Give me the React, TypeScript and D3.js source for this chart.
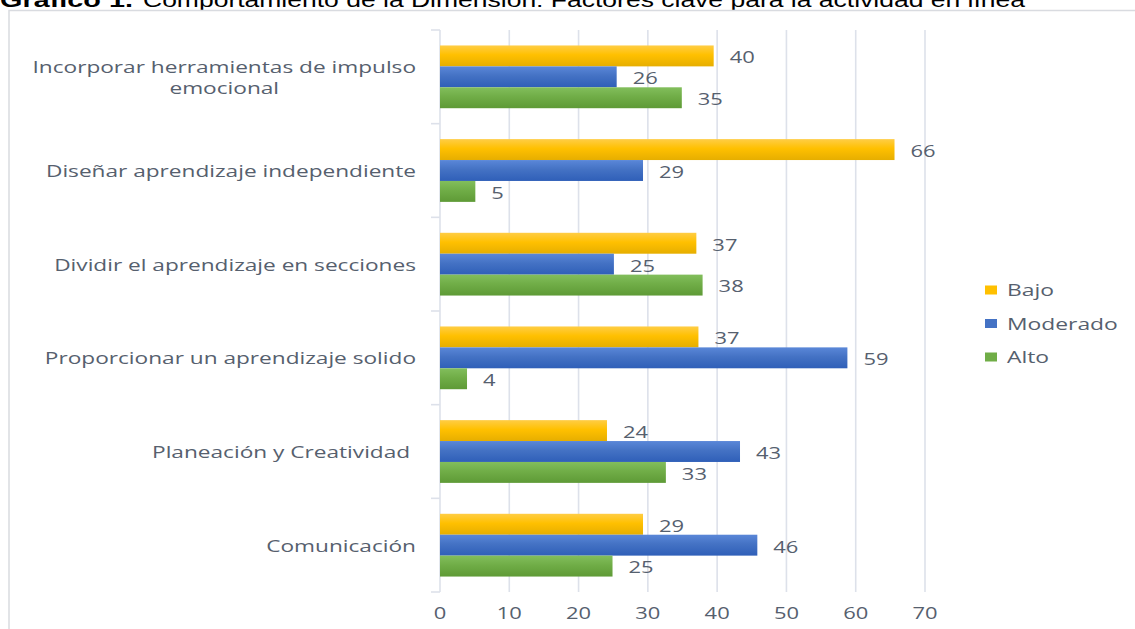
import React, { useEffect, useRef } from 'react';
import * as d3 from 'd3';

const categories = [
  'Incorporar herramientas de impulso\nemocional',
  'Diseñar aprendizaje independiente',
  'Dividir el aprendizaje en secciones',
  'Proporcionar un aprendizaje solido',
  'Planeación y Creatividad ',
  'Comunicación',
];
const seriesNames = ['Bajo', 'Moderado', 'Alto'];
const bajo = [39.5, 65.6, 37, 37.3, 24.1, 29.3];
const moderado = [25.5, 29.3, 25.1, 58.8, 43.3, 45.8];
const alto = [34.9, 5.1, 37.9, 3.9, 32.6, 24.9];
const xTicks = [0, 10, 20, 30, 40, 50, 60, 70];

const W = 1135;
const H = 629;
const SX = 1.33; // the picture is stretched sideways
const textColor = '#56606e';
const gridColor = '#dde1ea';

const App = () => {
  const svgRef = useRef<SVGSVGElement>(null);

  useEffect(() => {
    const svg = d3.select(svgRef.current);
    svg.selectAll('*').remove();

    const values = [bajo, moderado, alto];
    const colors = [
      ['#ffcd45', '#ffc000', '#e6ae00'],
      ['#5a87d8', '#4472c4', '#2f5fb8'],
      ['#82be5c', '#70ad47', '#5e9a36'],
    ];

    const defs = svg.append('defs');
    colors.forEach((c, i) => {
      const g = defs.append('linearGradient')
        .attr('id', `grad${i}`)
        .attr('x1', 0).attr('y1', 0).attr('x2', 0).attr('y2', 1);
      g.append('stop').attr('offset', '0%').attr('stop-color', c[0]);
      g.append('stop').attr('offset', '45%').attr('stop-color', c[1]);
      g.append('stop').attr('offset', '100%').attr('stop-color', c[2]);
    });

    // title (cut at the top of the picture)
    svg.append('text')
      .attr('x', 0).attr('y', 7)
      .attr('font-family', 'Liberation Sans, Arial, sans-serif')
      .attr('font-size', 21).attr('font-weight', 'bold')
      .attr('fill', '#000')
      .attr('textLength', 133).attr('lengthAdjust', 'spacingAndGlyphs')
      .text('Gráfico 1.');
    svg.append('text')
      .attr('x', 143).attr('y', 7)
      .attr('font-family', 'Liberation Sans, Arial, sans-serif')
      .attr('font-size', 21)
      .attr('fill', '#000')
      .attr('textLength', 882).attr('lengthAdjust', 'spacingAndGlyphs')
      .text('Comportamiento de la Dimensión: Factores clave para la actividad en línea');

    // chart frame
    svg.append('rect')
      .attr('x', 9).attr('y', 10.5)
      .attr('width', 1140).attr('height', 640)
      .attr('fill', 'none')
      .attr('stroke', '#d9dbe0').attr('stroke-width', 1.5);

    const x = d3.scaleLinear().domain([0, 70]).range([440, 925]);
    const y = d3.scaleBand<string>()
      .domain(categories)
      .range([30, 592])
      .paddingInner(0.33)
      .paddingOuter(0.165);
    const yInner = d3.scaleBand<string>()
      .domain(seriesNames)
      .range([0, y.bandwidth()]);

    const top = 30;
    const bottom = 592;

    // vertical gridlines
    svg.append('g').selectAll('line')
      .data(xTicks)
      .join('line')
      .attr('x1', d => x(d)).attr('x2', d => x(d))
      .attr('y1', top).attr('y2', bottom)
      .attr('stroke', gridColor).attr('stroke-width', 1.6);

    // category axis ticks
    const bounds = categories.map(c => (y(c) as number) - y.step() * y.paddingInner() / 2);
    bounds.push(bottom);
    svg.append('g').selectAll('line')
      .data(bounds)
      .join('line')
      .attr('x1', 431).attr('x2', x(0))
      .attr('y1', d => d).attr('y2', d => d)
      .attr('stroke', gridColor).attr('stroke-width', 1.6);

    // x tick labels
    svg.append('g').selectAll('text')
      .data(xTicks)
      .join('text')
      .attr('transform', d => `translate(${x(d)},${613}) scale(${SX},1)`)
      .attr('text-anchor', 'middle')
      .attr('dominant-baseline', 'central')
      .attr('font-family', 'Open Sans, sans-serif')
      .attr('font-size', 16.5)
      .attr('fill', textColor)
      .text(d => d);

    const fmt = d3.format('.0f');

    // bars + data labels
    seriesNames.forEach((s, si) => {
      const g = svg.append('g');
      categories.forEach((c, ci) => {
        const v = values[si][ci];
        const by = (y(c) as number) + (yInner(s) as number);
        const bh = yInner.bandwidth();
        g.append('rect')
          .attr('x', x(0)).attr('y', by)
          .attr('width', x(v) - x(0)).attr('height', bh)
          .attr('fill', `url(#grad${si})`);
        g.append('text')
          .attr('transform', `translate(${x(v) + 16},${by + bh / 2 + 1}) scale(${SX},1)`)
          .attr('dominant-baseline', 'central')
          .attr('font-family', 'Open Sans, sans-serif')
          .attr('font-size', 16.5)
          .attr('fill', textColor)
          .text(fmt(v));
      });
    });

    // category labels (multi-line centred on each other, block right-aligned)
    categories.forEach(c => {
      const lines = c.split('\n');
      const cy = (y(c) as number) + y.bandwidth() / 2;
      const g = svg.append('g')
        .attr('transform', `translate(416,${cy}) scale(1.34,1)`);
      const texts = lines.map((line, i) => g.append('text')
        .attr('y', (i - (lines.length - 1) / 2) * 21)
        .attr('text-anchor', 'middle')
        .attr('dominant-baseline', 'central')
        .attr('font-family', 'Open Sans, sans-serif')
        .attr('font-size', 16.9)
        .attr('fill', textColor)
        .style('white-space', 'pre')
        .text(line));
      const widths = texts.map(t => (t.node() as SVGTextElement).getComputedTextLength());
      const w = d3.max(widths) || 0;
      texts.forEach(t => t.attr('x', -w / 2));
    });

    // legend
    const legend = svg.append('g');
    seriesNames.forEach((s, i) => {
      const ly = 290 + i * 33.5;
      legend.append('rect')
        .attr('x', 985).attr('y', ly - 4.5)
        .attr('width', 12).attr('height', 9)
        .attr('fill', colors[i][1]);
      legend.append('text')
        .attr('transform', `translate(1007,${ly}) scale(1.36,1)`)
        .attr('dominant-baseline', 'central')
        .attr('font-family', 'Open Sans, sans-serif')
        .attr('font-size', 16.8)
        .attr('fill', textColor)
        .text(s);
    });
  }, []);

  return (
    <svg
      ref={svgRef}
      width={W}
      height={H}
      style={{ position: 'absolute', left: 0, top: 0, background: '#fff' }}
    ></svg>
  );
};

export default App;
